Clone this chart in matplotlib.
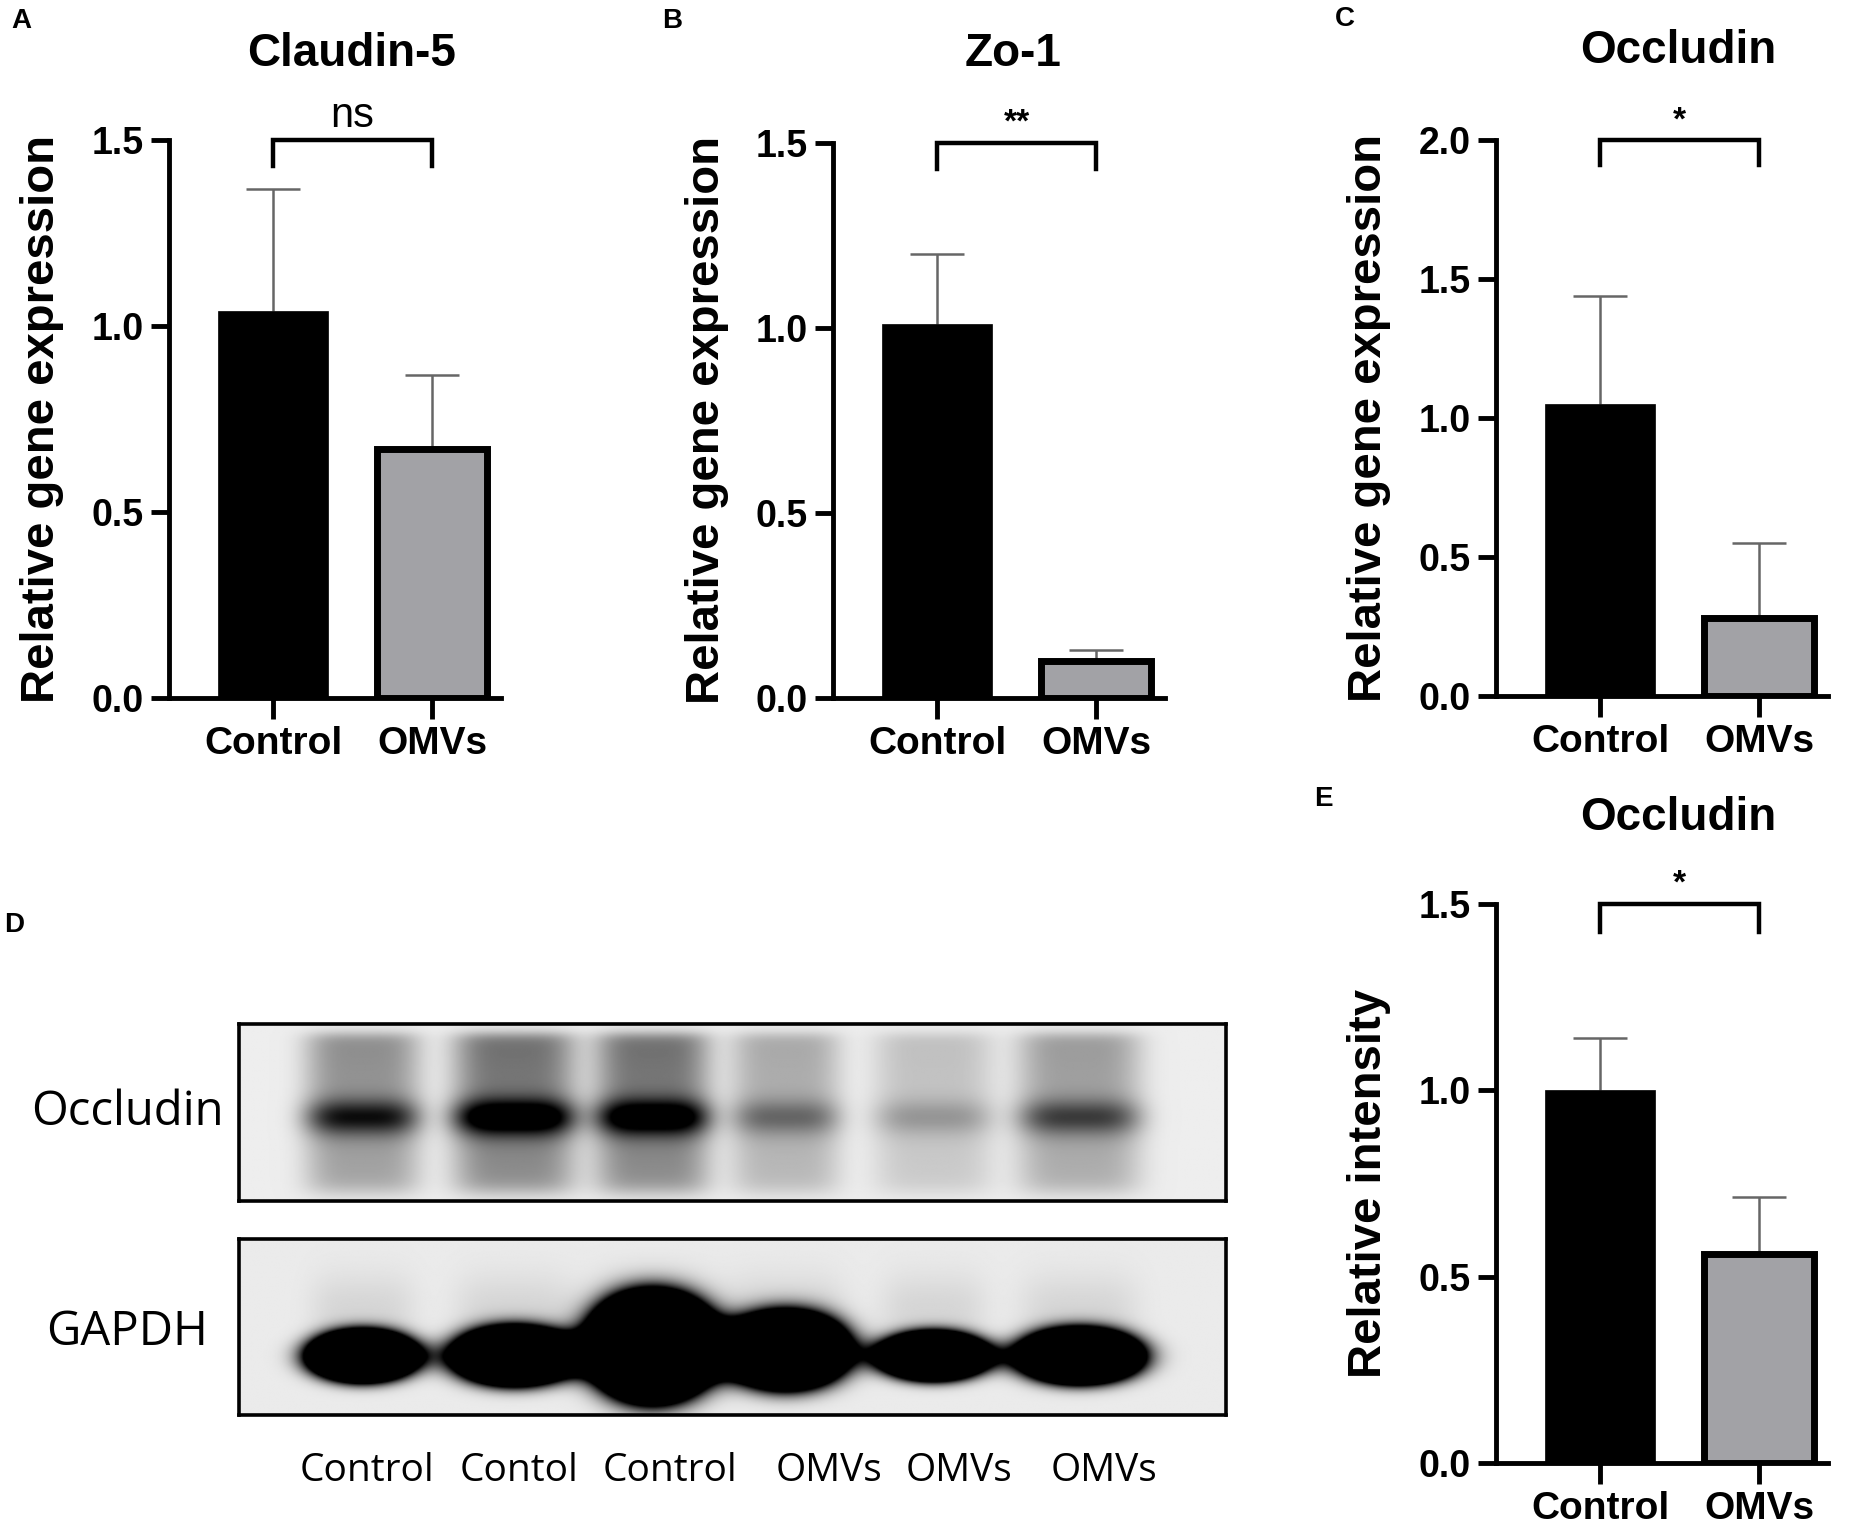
import numpy as np
import matplotlib
matplotlib.use("Agg")
import matplotlib.pyplot as plt

plt.rcParams['font.family'] = 'Liberation Sans'
plt.rcParams['font.weight'] = 'bold'

# bar data (mean, top of error bar)
groups = ["Control", "OMVs"]
claudin_mean = [1.04, 0.67]
claudin_top = [1.37, 0.87]
zo1_mean = [1.01, 0.10]
zo1_top = [1.20, 0.13]
occ_mean = [1.05, 0.28]
occ_top = [1.44, 0.55]
wb_mean = [1.00, 0.56]
wb_top = [1.14, 0.715]

# blot lanes
lane_labels = ["Control", "Contol", "Control", "OMVs", "OMVs", "OMVs"]
label_pos = [0.130, 0.284, 0.437, 0.598, 0.730, 0.876]
lane_pos = [0.125, 0.279, 0.419, 0.554, 0.704, 0.852]
occ_band = [0.60, 0.90, 0.85, 0.32, 0.20, 0.45]
occ_smear = [0.42, 0.55, 0.55, 0.30, 0.20, 0.36]
occ_halfw = [0.058, 0.062, 0.058, 0.055, 0.06, 0.062]
gapdh_band = [3.0, 3.0, 4.0, 3.2, 3.0, 3.0]
gapdh_halfw = [0.058, 0.066, 0.066, 0.066, 0.058, 0.066]
gapdh_halfh = [0.15, 0.17, 0.30, 0.22, 0.14, 0.16]
gapdh_cy = [0.67, 0.67, 0.62, 0.64, 0.67, 0.67]

W, H = 1567.0, 1288.0
fig = plt.figure(figsize=(18.65, 15.32), dpi=100)


def rect(left, bottom, top, right):
    return [left / W, 1 - bottom / H, (right - left) / W, (bottom - top) / H]


def bar_panel(pos, mean, top, ymax, yticks, ylabel, title, title_xy, sig, sig_y, sig_drop, sig_size):
    ax = fig.add_axes(rect(*pos))
    x = np.arange(2)
    ax.bar(x, mean, width=0.69, color=["black", "#a2a2a6"], edgecolor="black",
           linewidth=[0.5, 5], zorder=2)
    ax.vlines(x, mean, top, color="#666666", linewidth=1.8, zorder=1)
    ax.hlines(top, x - 0.17, x + 0.17, color="#666666", linewidth=1.8, zorder=1)
    ax.set_xlim(-0.655, 1.435)
    ax.set_ylim(0, ymax)
    ax.set_yticks(yticks)
    ax.set_yticklabels(["%.1f" % t for t in yticks])
    ax.set_xticks(x)
    ax.set_xticklabels(groups)
    for s in ["top", "right"]:
        ax.spines[s].set_visible(False)
    for s in ["left", "bottom"]:
        ax.spines[s].set_linewidth(3.5)
    ax.tick_params(axis="y", length=13, width=3.5, labelsize=27, pad=5)
    ax.tick_params(axis="x", length=15, width=3.5, labelsize=28, pad=5)
    ax.set_ylabel(ylabel, fontsize=34, fontweight="bold", labelpad=0)
    ax.yaxis.set_label_coords(-0.315, 0.5)
    # significance bracket
    ax.plot([0, 0, 1, 1], [sig_y - sig_drop, sig_y, sig_y, sig_y - sig_drop],
            color="black", linewidth=3.2, clip_on=False, solid_joinstyle="miter")
    ax.annotate(sig, (0.5, sig_y), xytext=(0, 3), textcoords="offset points",
                ha="center", va="bottom", fontsize=sig_size,
                fontweight="normal" if sig == "ns" else "bold", annotation_clip=False)
    fig.text(title_xy[0] / W, 1 - title_xy[1] / H, title, fontsize=33,
             ha="center", va="center")
    return ax


bar_panel((142, 587, 118, 421), claudin_mean, claudin_top, 1.5, [0.0, 0.5, 1.0, 1.5],
          "Relative gene expression", "Claudin-5", (295, 45), "ns", 1.5, 0.07, 30)
bar_panel((700, 587, 120, 979), zo1_mean, zo1_top, 1.5, [0.0, 0.5, 1.0, 1.5],
          "Relative gene expression", "Zo-1", (851, 45), "**", 1.5, 0.07, 24)
bar_panel((1257, 585, 118, 1536), occ_mean, occ_top, 2.0, [0.0, 0.5, 1.0, 1.5, 2.0],
          "Relative gene expression", "Occludin", (1410, 43), "*", 2.0, 0.09, 24)
bar_panel((1257, 1230, 760, 1536), wb_mean, wb_top, 1.5, [0.0, 0.5, 1.0, 1.5],
          "Relative intensity", "Occludin", (1410, 688), "*", 1.5, 0.075, 24)

# western blot panel
xx = np.linspace(0, 1, 800)[None, :]
yy = np.linspace(0, 1, 160)[:, None]

dark = np.zeros((160, 800))
smear_y = 1 / (1 + np.exp(-(yy - 0.06) / 0.02)) * 1 / (1 + np.exp(-(0.95 - yy) / 0.03))
for c, b, sm, w in zip(lane_pos, occ_band, occ_smear, occ_halfw):
    px = np.exp(-(np.abs(xx - c) / w) ** 4)
    dark += px * (b * np.exp(-((yy - 0.53) / 0.1) ** 2) + sm * smear_y * (1.0 - 0.3 * yy))
occ_img = 0.93 * (1 - np.clip(dark, 0, 1))

dark = np.zeros((160, 800))
for c, b, w, h, cy in zip(lane_pos, gapdh_band, gapdh_halfw, gapdh_halfh, gapdh_cy):
    r = ((xx - c) / w) ** 2 + ((yy - cy) / h) ** 2
    dark += b * np.exp(-r ** 1.5)
    dark += 0.2 * np.exp(-(np.abs(xx - c) / w) ** 4) * np.exp(-((yy - 0.4) / 0.25) ** 2)
gapdh_img = 0.92 * (1 - np.clip(dark, 0, 1) ** 1.5)

for img, (top, bottom), name, ny in [(occ_img, (861, 1010), "Occludin", 935),
                                     (gapdh_img, (1042, 1190), "GAPDH", 1120)]:
    ax = fig.add_axes(rect(201, bottom, top, 1030))
    ax.imshow(img, cmap="gray", vmin=0, vmax=1, aspect="auto", extent=(0, 1, 1, 0),
              interpolation="bilinear")
    ax.set_xticks([])
    ax.set_yticks([])
    for s in ax.spines.values():
        s.set_linewidth(2.6)
    fig.text(107 / W, 1 - ny / H, name, family="Open Sans", fontweight="normal",
             fontsize=34, ha="center", va="center")

for c, lab in zip(label_pos, lane_labels):
    fig.text((201 + c * 829) / W, 1 - 1237 / H, lab, family="Open Sans",
             fontweight="normal", fontsize=28, ha="center", va="center")

# panel letters
for letter, (lx, ly) in {"A": (18, 18), "B": (565, 18), "C": (1130, 16),
                         "D": (12, 778), "E": (1112, 672)}.items():
    fig.text(lx / W, 1 - ly / H, letter, fontsize=20, ha="center", va="center")

fig.savefig("out.png", dpi=100)
